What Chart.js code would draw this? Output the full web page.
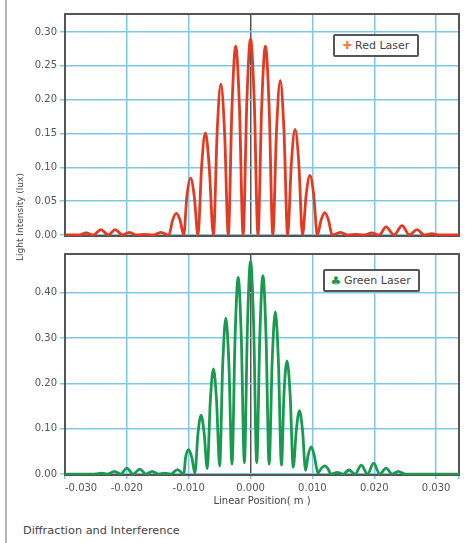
<!DOCTYPE html>
<html><head><meta charset="utf-8">
<script src="https://cdn.jsdelivr.net/npm/chart.js@4.4.1/dist/chart.umd.min.js"></script>
<style>
html,body{margin:0;padding:0;background:#fff;}
body{width:469px;height:543px;position:relative;overflow:hidden;font-family:"DejaVu Sans",sans-serif;}
#c1{position:absolute;left:0;top:0;}
#c2{position:absolute;left:0;top:245px;}
#edge{position:absolute;left:5px;top:0;width:2px;height:543px;background:#b8b8b8;}
.leg{position:absolute;border:2px solid #555;border-radius:2px;background:#fff;font-size:11px;color:#444;box-sizing:border-box;display:flex;align-items:center;white-space:nowrap;}
.sym{display:inline-block;width:12px;margin-right:2px;text-align:center;}
#ytitle{position:absolute;left:20px;top:217px;transform:translate(-50%,-50%) rotate(-90deg);font-size:9px;color:#444;white-space:nowrap;}
#caption{position:absolute;left:23px;top:524px;font-size:11.3px;color:#444;white-space:nowrap;}
</style>
</head><body>
<div id="edge"></div>
<canvas id="c1" width="469" height="245" style="width:469px;height:245px"></canvas>
<canvas id="c2" width="469" height="265" style="width:469px;height:265px"></canvas>
<div class="leg" style="left:333px;top:34px;width:86px;height:23px;padding-left:6px;"><span class="sym" style="color:#f0803c;font-size:11px;">✚</span>Red Laser</div>
<div class="leg" style="left:323px;top:269px;width:97px;height:23px;padding-left:5px;"><span class="sym" style="color:#1a9a50;font-size:12px;">♣</span>Green Laser</div>
<div id="ytitle">Light Intensity (lux)</div>
<div id="caption">Diffraction and Interference</div>
<script>
// ---- data ----
const xTicks = [-0.03, -0.02, -0.01, 0, 0.01, 0.02, 0.03];
const xTickLabels = ["-0.030", "-0.020", "-0.010", "0.000", "0.010", "0.020", "0.030"];
const redYTicks = [0, 0.05, 0.10, 0.15, 0.20, 0.25, 0.30];
const redYLabels = ["0.00", "0.05", "0.10", "0.15", "0.20", "0.25", "0.30"];
const greenYTicks = [0, 0.1, 0.2, 0.3, 0.4];
const greenYLabels = ["0.00", "0.10", "0.20", "0.30", "0.40"];

const redX = [-0.0300, -0.0278, -0.0266, -0.0254, -0.0242, -0.0230, -0.0219, -0.0207, -0.0196, -0.0184,
  -0.0172, -0.0158, -0.0145, -0.0132,
  -0.0126, -0.0120, -0.0114, -0.0108, -0.0103, -0.0097, -0.0091, -0.0085,
  -0.0079, -0.0073, -0.0067, -0.0060, -0.0054, -0.0048, -0.0042, -0.0036,
  -0.0030, -0.0024, -0.0018, -0.0012, -0.0006, 0.0000, 0.0006, 0.0012,
  0.0018, 0.0024, 0.0030, 0.0036, 0.0042, 0.0048, 0.0054, 0.0060,
  0.0066, 0.0072, 0.0078, 0.0084, 0.0090, 0.0096, 0.0102, 0.0108,
  0.0114, 0.0120, 0.0126, 0.0132,
  0.0145, 0.0158, 0.0170, 0.0183, 0.0196, 0.0208, 0.0219, 0.0232, 0.0245, 0.0257,
  0.0269, 0.0281, 0.0293, 0.0305, 0.0337];
const redY = [0.000, 0.000, 0.003, 0.000, 0.008, 0.000, 0.008, 0.000, 0.004, 0.000,
  0.001, 0.000, 0.004, 0.000,
  0.022, 0.032, 0.022, 0.000, 0.057, 0.084, 0.057, 0.000,
  0.103, 0.151, 0.103, 0.000, 0.152, 0.223, 0.152, 0.000,
  0.190, 0.279, 0.190, 0.000, 0.197, 0.290, 0.197, 0.000,
  0.190, 0.279, 0.190, 0.000, 0.155, 0.228, 0.155, 0.000,
  0.106, 0.156, 0.106, 0.000, 0.060, 0.088, 0.060, 0.000,
  0.022, 0.033, 0.022, 0.000,
  0.004, 0.000, 0.001, 0.000, 0.003, 0.000, 0.012, 0.000, 0.014, 0.000,
  0.008, 0.000, 0.002, 0.000, 0.000];

const greenX = [-0.0300, -0.0252, -0.0241, -0.0231, -0.0220, -0.0210, -0.0200, -0.0190, -0.0179, -0.0169,
  -0.0159, -0.0149, -0.0139, -0.0129, -0.0118, -0.0108,
  -0.0105, -0.0100, -0.0095, -0.0090, -0.0085, -0.0080, -0.0075, -0.0070,
  -0.0065, -0.0060, -0.0055, -0.0050, -0.0045, -0.0040, -0.0035, -0.0030,
  -0.0025, -0.0020, -0.0015, -0.0010, -0.0005, 0.0000, 0.0005, 0.0010,
  0.0015, 0.0020, 0.0025, 0.0030, 0.0035, 0.0040, 0.0045, 0.0050,
  0.0054, 0.0059, 0.0064, 0.0069, 0.0074, 0.0079, 0.0084, 0.0089,
  0.0093, 0.0098, 0.0103, 0.0109, 0.0114, 0.0120, 0.0125, 0.0130,
  0.0140, 0.0150, 0.0159, 0.0169, 0.0179, 0.0189, 0.0199, 0.0209, 0.0219, 0.0229,
  0.0239, 0.0250, 0.0337];
const greenY = [0.000, 0.000, 0.002, 0.000, 0.006, 0.000, 0.013, 0.000, 0.011, 0.000,
  0.006, 0.000, 0.002, 0.000, 0.010, 0.000,
  0.037, 0.054, 0.037, 0.002, 0.090, 0.130, 0.090, 0.012,
  0.163, 0.232, 0.163, 0.018, 0.242, 0.344, 0.242, 0.022,
  0.303, 0.434, 0.303, 0.025, 0.328, 0.470, 0.328, 0.025,
  0.305, 0.438, 0.305, 0.022, 0.250, 0.358, 0.250, 0.020,
  0.175, 0.250, 0.175, 0.015, 0.097, 0.140, 0.097, 0.008,
  0.041, 0.060, 0.041, 0.002, 0.012, 0.018, 0.012, 0.000,
  0.004, 0.000, 0.009, 0.000, 0.020, 0.000, 0.024, 0.000, 0.013, 0.000,
  0.006, 0.000, 0.000];

// ---- styling ----
const X_MIN = -0.030, X_MAX = 0.0337;
const GRID = '#7ec8e3';
const AXIS = '#555';
const tickFont = {family: 'DejaVu Sans', size: 10};

const framePlugin = {
  id: 'frame',
  beforeDatasetsDraw(chart) {
    const {ctx, chartArea: a} = chart;
    ctx.save();
    ctx.strokeStyle = AXIS;
    ctx.lineWidth = 2;
    ctx.strokeRect(a.left, a.top, a.right - a.left, a.bottom - a.top);
    ctx.restore();
  }
};

function pts(xs, ys) { return xs.map((x, i) => ({x, y: ys[i]})); }

function xGridColor(ctx) { return (ctx.tick && ctx.tick.value === 0) ? AXIS : GRID; }

function makeChart(id, xs, ys, color, yTicks, yLabels, yMin, yMax, bottom, padding) {
  const xScale = {
    type: 'linear', min: X_MIN, max: X_MAX,
    afterBuildTicks: s => { s.ticks = xTicks.map(v => ({value: v})).concat(bottom ? [{value: s.max}] : []); },
    grid: {color: xGridColor, lineWidth: 1.5, drawTicks: bottom, tickLength: 4, tickColor: GRID},
    border: {display: false},
  };
  if (bottom) {
    xScale.ticks = {display: true, font: tickFont, color: '#555', padding: 3, align: 'inner',
      maxRotation: 0, minRotation: 0, autoSkip: false,
      callback: (v, i) => i < xTickLabels.length ? xTickLabels[i] : ''};
    xScale.title = {display: true, text: 'Linear Position( m )', font: {family: 'DejaVu Sans', size: 10},
      color: '#444', padding: {top: 0, bottom: 3}};
    xScale.afterFit = s => { s.height = 35; };
  } else {
    xScale.ticks = {display: false};
    xScale.afterFit = s => { s.height = 0; };
  }
  return new Chart(document.getElementById(id), {
    type: 'line',
    data: {datasets: [{
      data: pts(xs, ys), borderColor: color, borderWidth: 2.8, pointRadius: 0,
      cubicInterpolationMode: 'monotone', fill: false
    }]},
    options: {
      responsive: false, animation: false,
      layout: {padding: padding},
      plugins: {legend: {display: false}, tooltip: {enabled: false}},
      scales: {
        x: xScale,
        y: {
          type: 'linear', min: yMin, max: yMax,
          afterBuildTicks: s => { s.ticks = yTicks.map(v => ({value: v})); },
          ticks: {font: tickFont, color: '#555', padding: 3, callback: (v, i) => yLabels[i]},
          grid: {color: GRID, lineWidth: 1.5, tickLength: 5, tickColor: GRID},
          border: {display: false},
          afterFit: s => { s.width = 65; }
        }
      }
    },
    plugins: [framePlugin]
  });
}

makeChart('c1', redX, redY, '#e23b22', redYTicks, redYLabels, -0.00145, 0.3266, false,
  {top: 14, right: 10, bottom: 5, left: 0});
makeChart('c2', greenX, greenY, '#1a9a50', greenYTicks, greenYLabels, -0.002, 0.4857, true,
  {top: 4.3, right: 10, bottom: 0, left: 0});
</script>
</body></html>
